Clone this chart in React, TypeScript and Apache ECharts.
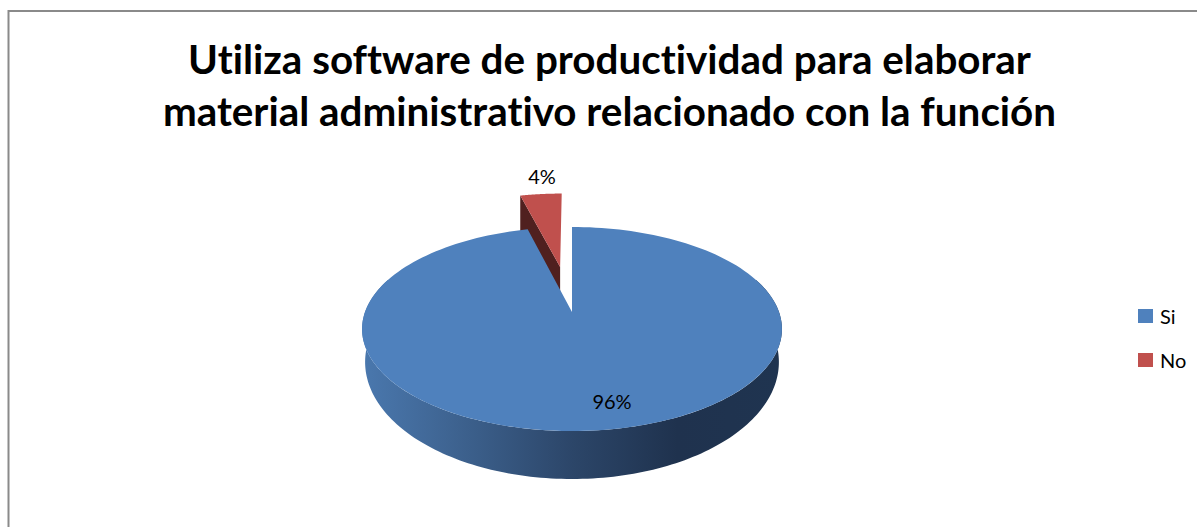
import React, { useEffect, useRef } from "react";
import * as echarts from "echarts";

const categories = ["Si", "No"];
const seriesValues = [96, 4];
const titleLines = [
  "Utiliza software de productividad para elaborar",
  "material administrativo relacionado con la función",
];

const total = seriesValues.reduce((a, b) => a + b, 0);
const CX = 572;
const TOP = { y0: 312, a: 207, b: 99.17, k: 0.1667 };
const LOW = { y0: 342.5, a: 204, b: 113.75, k: 0.1667 };

type Plane = typeof TOP;
const project = (pl: Plane, u: number, v: number) => {
  const d = 1 + pl.k * v;
  return [CX + (pl.a * u) / d, pl.y0 - (pl.b * v) / d];
};
const EXPLODE: Record<string, number> = { Si: 0, No: 0.495 };
const LABEL_POS: Record<string, number[]> = { Si: [612, 401], No: [542, 176] };
const COLORS: Record<string, string> = { Si: "#4f81bd", No: "#c0504d" };

function sliceItem(name: string) {
  return (_params: any, api: any) => {
    const idx = categories.indexOf(name);
    const before = seriesValues.slice(0, idx).reduce((a, b) => a + b, 0);
    const start = (before / total) * Math.PI * 2;
    const share = api.value(0) / total;
    const end = start + share * Math.PI * 2;
    const mid = (start + end) / 2;
    const e = EXPLODE[name];
    const ou = e * Math.sin(mid);
    const ov = e * Math.cos(mid);
    const rim = (pl: Plane, from: number, to: number) => {
      const pts: number[][] = [];
      const n = 180;
      for (let i = 0; i <= n; i++) {
        const t = from + ((to - from) * i) / n;
        pts.push(project(pl, Math.sin(t) + ou, Math.cos(t) + ov));
      }
      return pts;
    };
    const children: any[] = [];
    if (name === "Si") {
      const f = Math.max(start, (70 * Math.PI) / 180);
      const t = Math.min(end, (290 * Math.PI) / 180);
      children.push({
        type: "polygon",
        shape: { points: [...rim(TOP, f, t), ...rim(LOW, f, t).reverse()] },
        style: {
          fill: new echarts.graphic.LinearGradient(
            0,
            0,
            1,
            0,
            [
              { offset: 0, color: "#4a78ae" },
              { offset: 0.2, color: "#3f6593" },
              { offset: 0.5, color: "#2c4669" },
              { offset: 0.75, color: "#1f324e" },
              { offset: 1, color: "#1f3450" },
            ],
          ),
        },
      });
    } else {
      const apex = project(TOP, ou, ov);
      const outer = project(TOP, Math.sin(start) + ou, Math.cos(start) + ov);
      children.push({
        type: "polygon",
        shape: {
          points: [apex, outer, [outer[0], outer[1] + 45], [apex[0], apex[1] + 45]],
        },
        style: { fill: "#50201f" },
      });
    }
    children.push({
      type: "polygon",
      shape: { points: [project(TOP, ou, ov), ...rim(TOP, start, end)] },
      style: { fill: COLORS[name] },
    });
    const [lx, ly] = LABEL_POS[name];
    children.push({
      type: "text",
      x: lx,
      y: ly,
      style: {
        text: `${Math.round(share * 100)}%`,
        fill: "#000",
        font: "20px Lato",
        align: "center",
        verticalAlign: "middle",
      },
    });
    return { type: "group", children };
  };
}

export default function App() {
  const ref = useRef<HTMLDivElement>(null);
  useEffect(() => {
    const chart = echarts.init(ref.current!, null, { renderer: "svg" });
    chart.setOption({
      animation: false,
      backgroundColor: "#fff",
      title: {
        text: titleLines.join("\n"),
        left: 604.5,
        top: 27,
        textAlign: "center",
        textStyle: {
          fontFamily: "Lato",
          fontWeight: "bold",
          fontSize: 40.4,
          lineHeight: 52,
          color: "#000",
        },
      },
      legend: {
        orient: "vertical",
        left: 1133,
        top: 301,
        itemWidth: 15,
        itemHeight: 14,
        itemGap: 24,
        icon: "rect",
        data: categories,
        textStyle: { fontFamily: "Lato", fontSize: 20, color: "#000", padding: [0, 0, 0, 2] },
      },
      graphic: [
        {
          type: "polyline",
          shape: { points: [[8.5, 527], [8.5, 11], [1197, 11]] },
          style: { stroke: "#8a8a8a", lineWidth: 2, fill: "none" },
        },
      ],
      series: categories.map((name, i) => ({
        type: "custom",
        name,
        coordinateSystem: "none",
        z: name === "Si" ? 3 : 2,
        itemStyle: { color: COLORS[name] },
        data: [[seriesValues[i]]],
        renderItem: sliceItem(name),
        silent: true,
      })),
    });
    return () => chart.dispose();
  }, []);
  return (
    <div
      ref={ref}
      style={{ position: "absolute", left: 0, top: 0, width: 1197, height: 527, fontVariantLigatures: "none" }}
    />
  );
}
